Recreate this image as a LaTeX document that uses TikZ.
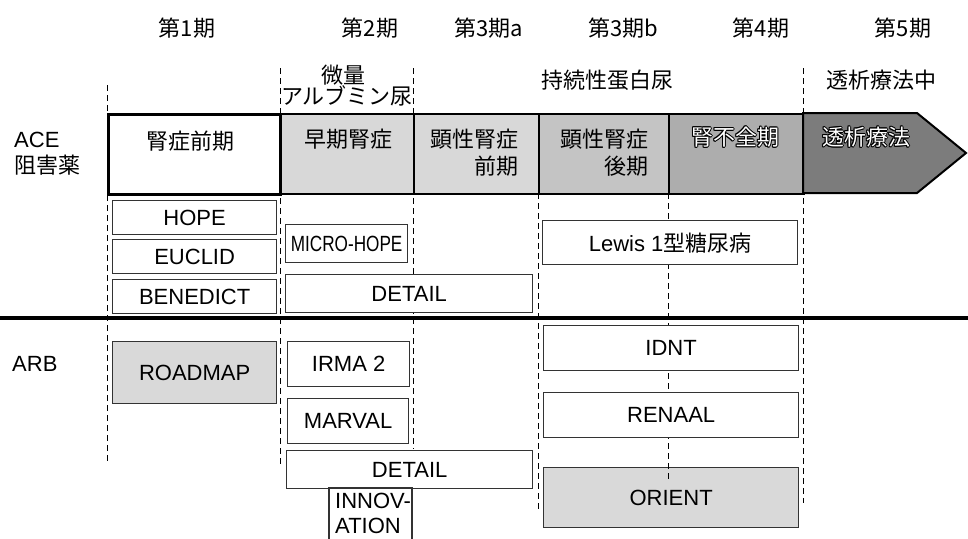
\documentclass[tikz,border=0pt]{standalone}
\usepackage{fontspec}
\usepackage{graphicx}
\setmainfont{Liberation Sans}
\newfontfamily\jp{Noto Sans CJK JP}
\usetikzlibrary{calc}
\definecolor{boxline}{HTML}{333333}
\definecolor{phA}{HTML}{D8D8D8}
\definecolor{phB}{HTML}{C4C4C4}
\definecolor{phC}{HTML}{ADADAD}
\definecolor{phD}{HTML}{7C7C7C}
\definecolor{trfill}{HTML}{D9D9D9}
\newcommand\outl[3]{%
  \foreach \a in {0,45,...,315} \node[jtxt,text=black] at ($(#2)+(\a:1pt)$) {#3};
  \node[jtxt,text=white] (#1) at (#2) {#3};}
\begin{document}
\begin{tikzpicture}[x=1pt,y=-1pt,
  txt/.style={font=\fontsize{22}{25}\selectfont, inner sep=0pt},
  jtxt/.style={font=\jp\fontsize{22}{26}\selectfont, inner sep=0pt},
  trial/.style={draw=boxline, line width=1.3pt, fill=white, inner sep=0pt,
    font=\fontsize{22}{26}\selectfont, anchor=north west},
  vdash/.style={draw=black, line width=1pt, dash pattern=on 6pt off 4pt},
  phase/.style={draw=black, line width=2pt, anchor=north west, inner sep=0pt, minimum height=80pt},
  sep/.style={draw=black, line width=3.5pt},
]
\useasboundingbox (0,0) rectangle (968,538);

% filled ARB box under dashed line
\node[trial, fill=trfill, minimum width=255pt, minimum height=60pt] (orient) at (543,467) {ORIENT};

% dashed column lines
\coordinate (d1t) at (107,85);  \coordinate (d1b) at (107,464);
\coordinate (d2t) at (280,68);  \coordinate (d2b) at (280,466);
\coordinate (d3t) at (413,68);  \coordinate (d3b) at (413,449);
\coordinate (d4t) at (538,193); \coordinate (d4b) at (538,512);
\coordinate (d5t) at (668,193); \coordinate (d5b) at (668,480);
\coordinate (d6t) at (803,68);  \coordinate (d6b) at (803,503);
\foreach \i in {1,...,6} \draw[vdash] (d\i t) -- (d\i b);

% separator
\coordinate (sl) at (0,318); \coordinate (sr) at (968,318);
\draw[sep] (sl) -- (sr);

% phase bar
\node[phase, fill=phA, minimum width=133pt] (p2) at (280,113) {};
\node[phase, fill=phA, minimum width=125pt] (p3) at (413,113) {};
\node[phase, fill=phB, minimum width=130pt] (p4) at (538,113) {};
\node[phase, fill=phC, minimum width=135pt] (p5) at (668,113) {};
\coordinate (a1) at (803,113); \coordinate (a2) at (917,113); \coordinate (a3) at (966,153);
\coordinate (a4) at (917,193); \coordinate (a5) at (803,193);
\draw[line width=2pt, fill=phD] (a1) -- (a2) -- (a3) -- (a4) -- (a5) -- cycle;
\node[phase, fill=white, line width=2.6pt, minimum width=172pt] (p1) at (107,113) {};

% headers
\node[jtxt] (h1) at (187,28) {第1期};
\node[jtxt] (h2) at (370,28) {第2期};
\node[jtxt] (h3a) at (489,28) {第3期a};
\node[jtxt] (h3b) at (623,28) {第3期b};
\node[jtxt] (h4) at (761,28) {第4期};
\node[jtxt] (h5) at (903,28) {第5期};
\node[jtxt] (mu1) at (343,75) {微量};
\node[jtxt] (mu2) at (347,96) {アルブミン尿};
\node[jtxt] (pr) at (607,80) {持続性蛋白尿};
\node[jtxt] (dia) at (881,80) {透析療法中};

% row labels
\node[txt, anchor=west] (ace1) at (14,140) {ACE};
\node[jtxt, anchor=west] (ace2) at (14,165) {阻害薬};
\node[txt, anchor=west] (arb) at (12,364) {ARB};

% bar texts
\node[jtxt] (t1) at (190,141) {腎症前期};
\node[jtxt] (t2) at (348,139) {早期腎症};
\node[jtxt, anchor=east] (t3a) at (519,139) {顕性腎症};
\node[jtxt, anchor=east] (t3b) at (519,166) {前期};
\node[jtxt, anchor=east] (t4a) at (649,139) {顕性腎症};
\node[jtxt, anchor=east] (t4b) at (649,166) {後期};
\outl{t5}{735,137}{腎不全期}
\outl{t6}{866,137}{透析療法}

% ACE trials
\node[trial, minimum width=164pt, minimum height=34pt] (hope) at (112,200) {HOPE};
\node[trial, minimum width=164pt, minimum height=34pt] (euclid) at (112,239) {EUCLID};
\node[trial, minimum width=164pt, minimum height=34pt] (bened) at (112,279) {BENEDICT};
\node[trial, minimum width=122pt, minimum height=38pt] (micro) at (285,224) {\scalebox{0.78}[1]{MICRO-HOPE}};
\node[trial, minimum width=247pt, minimum height=38pt] (detA) at (285,274) {DETAIL};
\node[trial, minimum width=255pt, minimum height=44pt] (lewis) at (542,220) {Lewis 1{\jp 型糖尿病}};

% ARB trials
\node[trial, fill=trfill, minimum width=164pt, minimum height=62pt] (road) at (112,341) {ROADMAP};
\node[trial, minimum width=122pt, minimum height=45pt] (irma) at (287,341) {IRMA 2};
\node[trial, minimum width=121pt, minimum height=45pt] (marval) at (287,398) {MARVAL};
\node[trial, minimum width=246pt, minimum height=38pt] (detB) at (286,450) {DETAIL};
\node[trial, minimum width=255pt, minimum height=45pt] (idnt) at (543,325) {IDNT};
\node[trial, minimum width=255pt, minimum height=45pt] (renaal) at (543,392) {RENAAL};

% INNOVATION (cut at bottom)
\coordinate (i1) at (329,545); \coordinate (i2) at (329,488);
\coordinate (i3) at (412,488); \coordinate (i4) at (412,545);
\draw[boxline, line width=1.3pt] (i1) -- (i2) -- (i3) -- (i4);
\node[txt, align=left, anchor=north west] (inn) at (335,493) {INNOV-\\ATION};
\end{tikzpicture}
\end{document}
